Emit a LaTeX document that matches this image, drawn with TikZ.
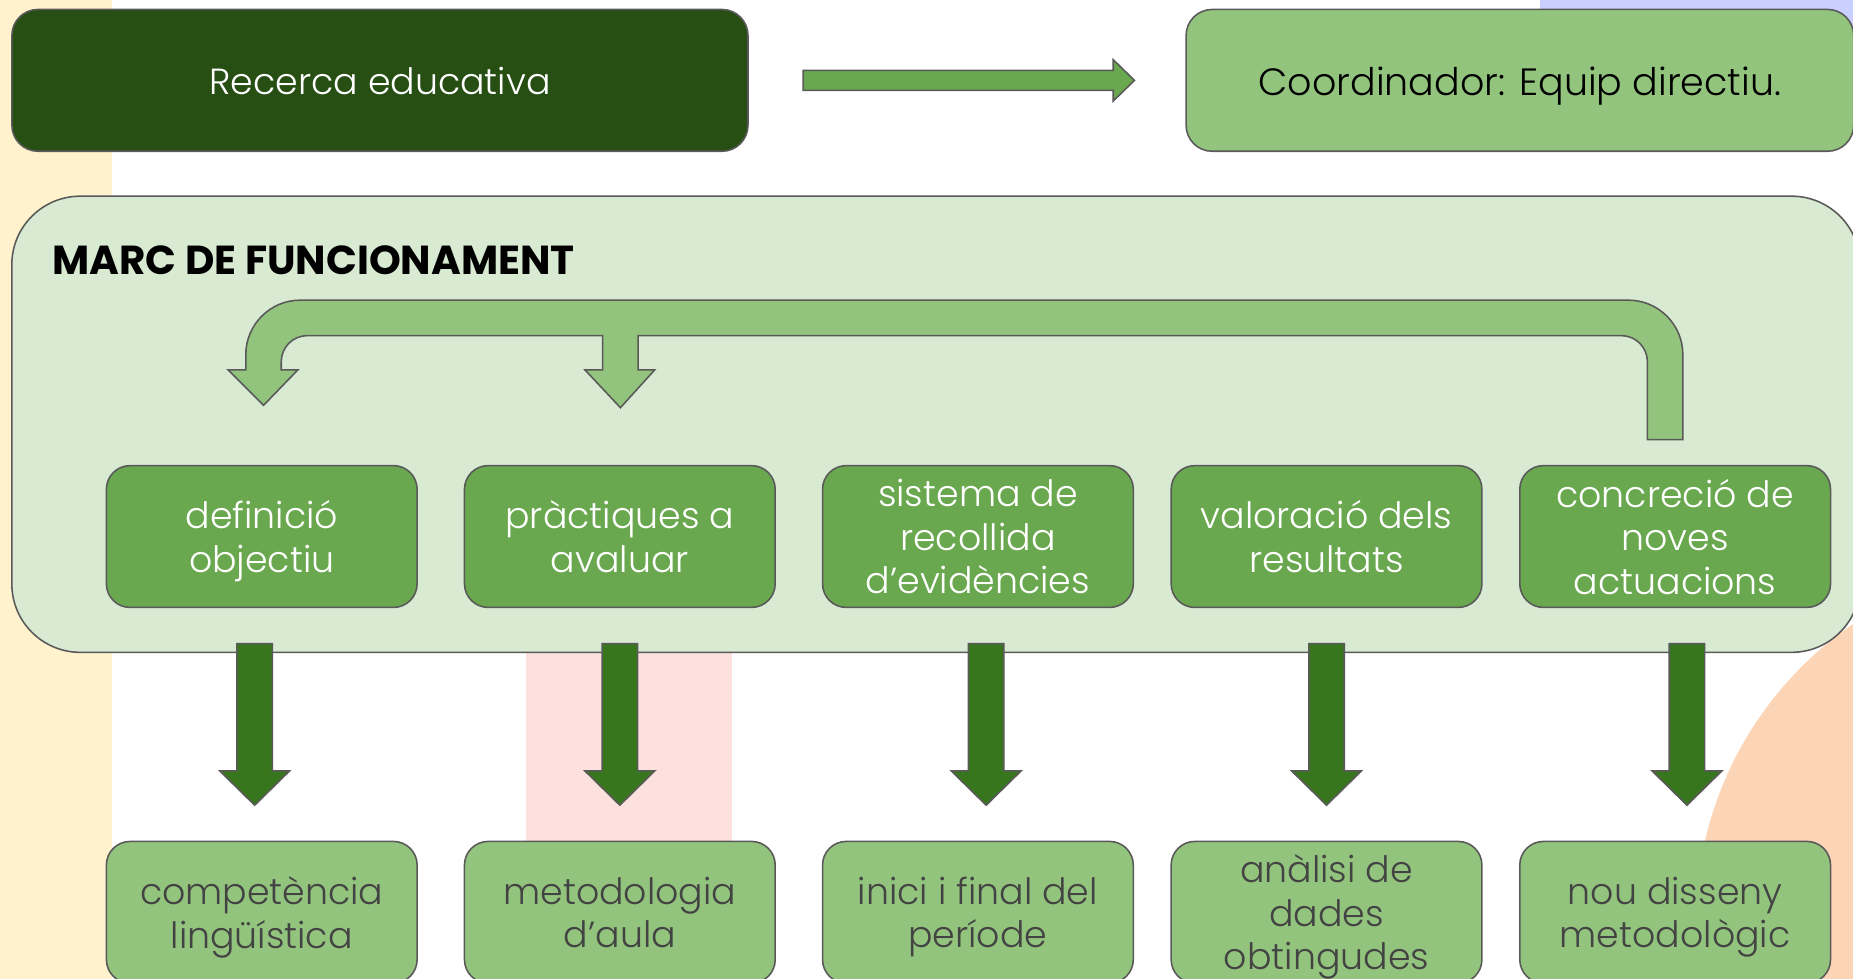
\documentclass[tikz,border=0pt]{standalone}
\usepackage{fontspec}
\IfFontExistsTF{Poppins Light}{\setmainfont{Poppins Light}[BoldFont=Poppins Bold]}{\setmainfont{Poppins}}
\usepackage{tikz}
\usetikzlibrary{calc}

\definecolor{darkgreen}{HTML}{274E13}
\definecolor{midgreen}{HTML}{6AA84F}
\definecolor{lightgreen}{HTML}{93C47D}
\definecolor{panelgreen}{HTML}{D9EAD3}
\definecolor{arrowgreen}{HTML}{38761D}
\definecolor{edgegrey}{HTML}{595959}
\definecolor{textgrey}{HTML}{434343}
\definecolor{creamstrip}{RGB}{255,242,204}
\definecolor{lavender}{RGB}{201,208,255}
\definecolor{pinkband}{RGB}{252,225,220}
\definecolor{peach}{RGB}{252,212,182}

\begin{document}
\begin{tikzpicture}[x=0.02cm, y=-0.02cm,
    box/.style={draw=edgegrey, line width=0.75pt, rounded corners=0.4cm,
      minimum width=5.26cm, minimum height=2.4cm, inner sep=0pt,
      align=center, font=\fontsize{17.5}{21}\selectfont},
    oneline/.style={box, rounded corners=0.44cm,
      execute at begin node={\rule{0pt}{1.1em}},
      execute at end node={\rule[-0.3em]{0pt}{0.3em}}},
    lines/.style={box, text depth=-1.75pt},
    stage/.style={lines, fill=midgreen, text=white},
    result/.style={lines, fill=lightgreen, text=textgrey},
    blockarrow/.style={draw=edgegrey, line width=0.75pt}]
    \useasboundingbox (0,0) rectangle (1568,828);
    \clip (0,0) rectangle (1568,828);
    % background
    \fill[white] (0,0) rectangle (1568,828);
    \fill[creamstrip] (0,0) rectangle (95,828);
    \fill[lavender] (1303,0) rectangle (1568,40);
    \fill[pinkband] (445,540) rectangle (619,720);
    \fill[peach] (1740,780) circle (6.1cm);

    % top row
    \node[oneline, fill=darkgreen, text=white, minimum width=12.46cm]
      (recerca) at (321.5,68) {Recerca educativa};
    \node[oneline, fill=lightgreen, text=black, minimum width=11.3cm, anchor=west,
      font=\fontsize{18.3}{22}\selectfont] (coord) at (1003,68) {Coordinador: Equip directiu.};
    \draw[blockarrow, fill=midgreen]
      ($(recerca.east)+(46,-8.5)$) -- ($(coord.west)+(-61,-8.5)$)
      -- ($(coord.west)+(-61,-17.5)$) -- ($(coord.west)+(-43,0)$)
      -- ($(coord.west)+(-61,17.5)$) -- ($(coord.west)+(-61,8.5)$)
      -- ($(recerca.east)+(46,8.5)$) -- cycle;

    % marc de funcionament
    \draw[edgegrey, line width=0.75pt, fill=panelgreen, rounded corners=1.16cm]
      (10,166) rectangle (1574,552);
    \node[anchor=west, inner sep=0pt, font=\bfseries\fontsize{19.5}{23}\selectfont]
      (marc) at (44,220) {MARC DE FUNCIONAMENT};

    % cycle arrow
    \draw[blockarrow, fill=lightgreen]
      (223,343) -- (252,313) -- (238,313) -- (238,306)
      .. controls (238,293.9) and (247.9,284) .. (260,284)
      -- (510,284) -- (510,313) -- (495,313) -- (525,345) -- (554,313)
      -- (540,313) -- (540,284) -- (1372,284)
      .. controls (1384.1,284) and (1394,293.9) .. (1394,306)
      -- (1394,372) -- (1424,372) -- (1424,300)
      .. controls (1424,274.7) and (1403.3,254) .. (1378,254)
      -- (254,254)
      .. controls (228.7,254) and (208,274.7) .. (208,300)
      -- (208,313) -- (193,313) -- cycle;

    % stages
    \node[stage] (defin) at (221.5,454) {definició\\objectiu};
    \node[stage] (pract) at (524.5,454) {pràctiques a\\avaluar};
    \node[stage] (sist)  at (827.5,454) {sistema de\\recollida\\d’evidències};
    \node[stage] (valor) at (1122.5,454) {valoració dels\\resultats};
    \node[stage] (concr) at (1417.5,454) {concreció de\\noves\\actuacions};

    % results
    \node[result] (comp)  at (221.5,772) {competència\\lingüística};
    \node[result] (metod) at (524.5,772) {metodologia\\d’aula};
    \node[result] (inici) at (827.5,772) {inici i final del\\període};
    \node[result] (anal)  at (1122.5,772) {anàlisi de\\dades\\obtingudes};
    \node[result] (nou)   at (1417.5,772) {nou disseny\\metodològic};

    % down arrows
    \foreach \a/\b/\dx in {defin/comp/-6, pract/metod/0, sist/inici/7,
        valor/anal/0, concr/nou/10} {
      \path ($(\a.south)+(\dx,30)$) coordinate (s)
            ($(\b.north)+(\dx,-30)$) coordinate (e);
      \draw[blockarrow, fill=arrowgreen]
        ($(s)+(-15,0)$) -- ($(s)+(15,0)$) -- ($(e)+(15,-29)$)
        -- ($(e)+(29.5,-29)$) -- (e) -- ($(e)+(-29.5,-29)$)
        -- ($(e)+(-15,-29)$) -- cycle;
    }
\end{tikzpicture}
\end{document}
